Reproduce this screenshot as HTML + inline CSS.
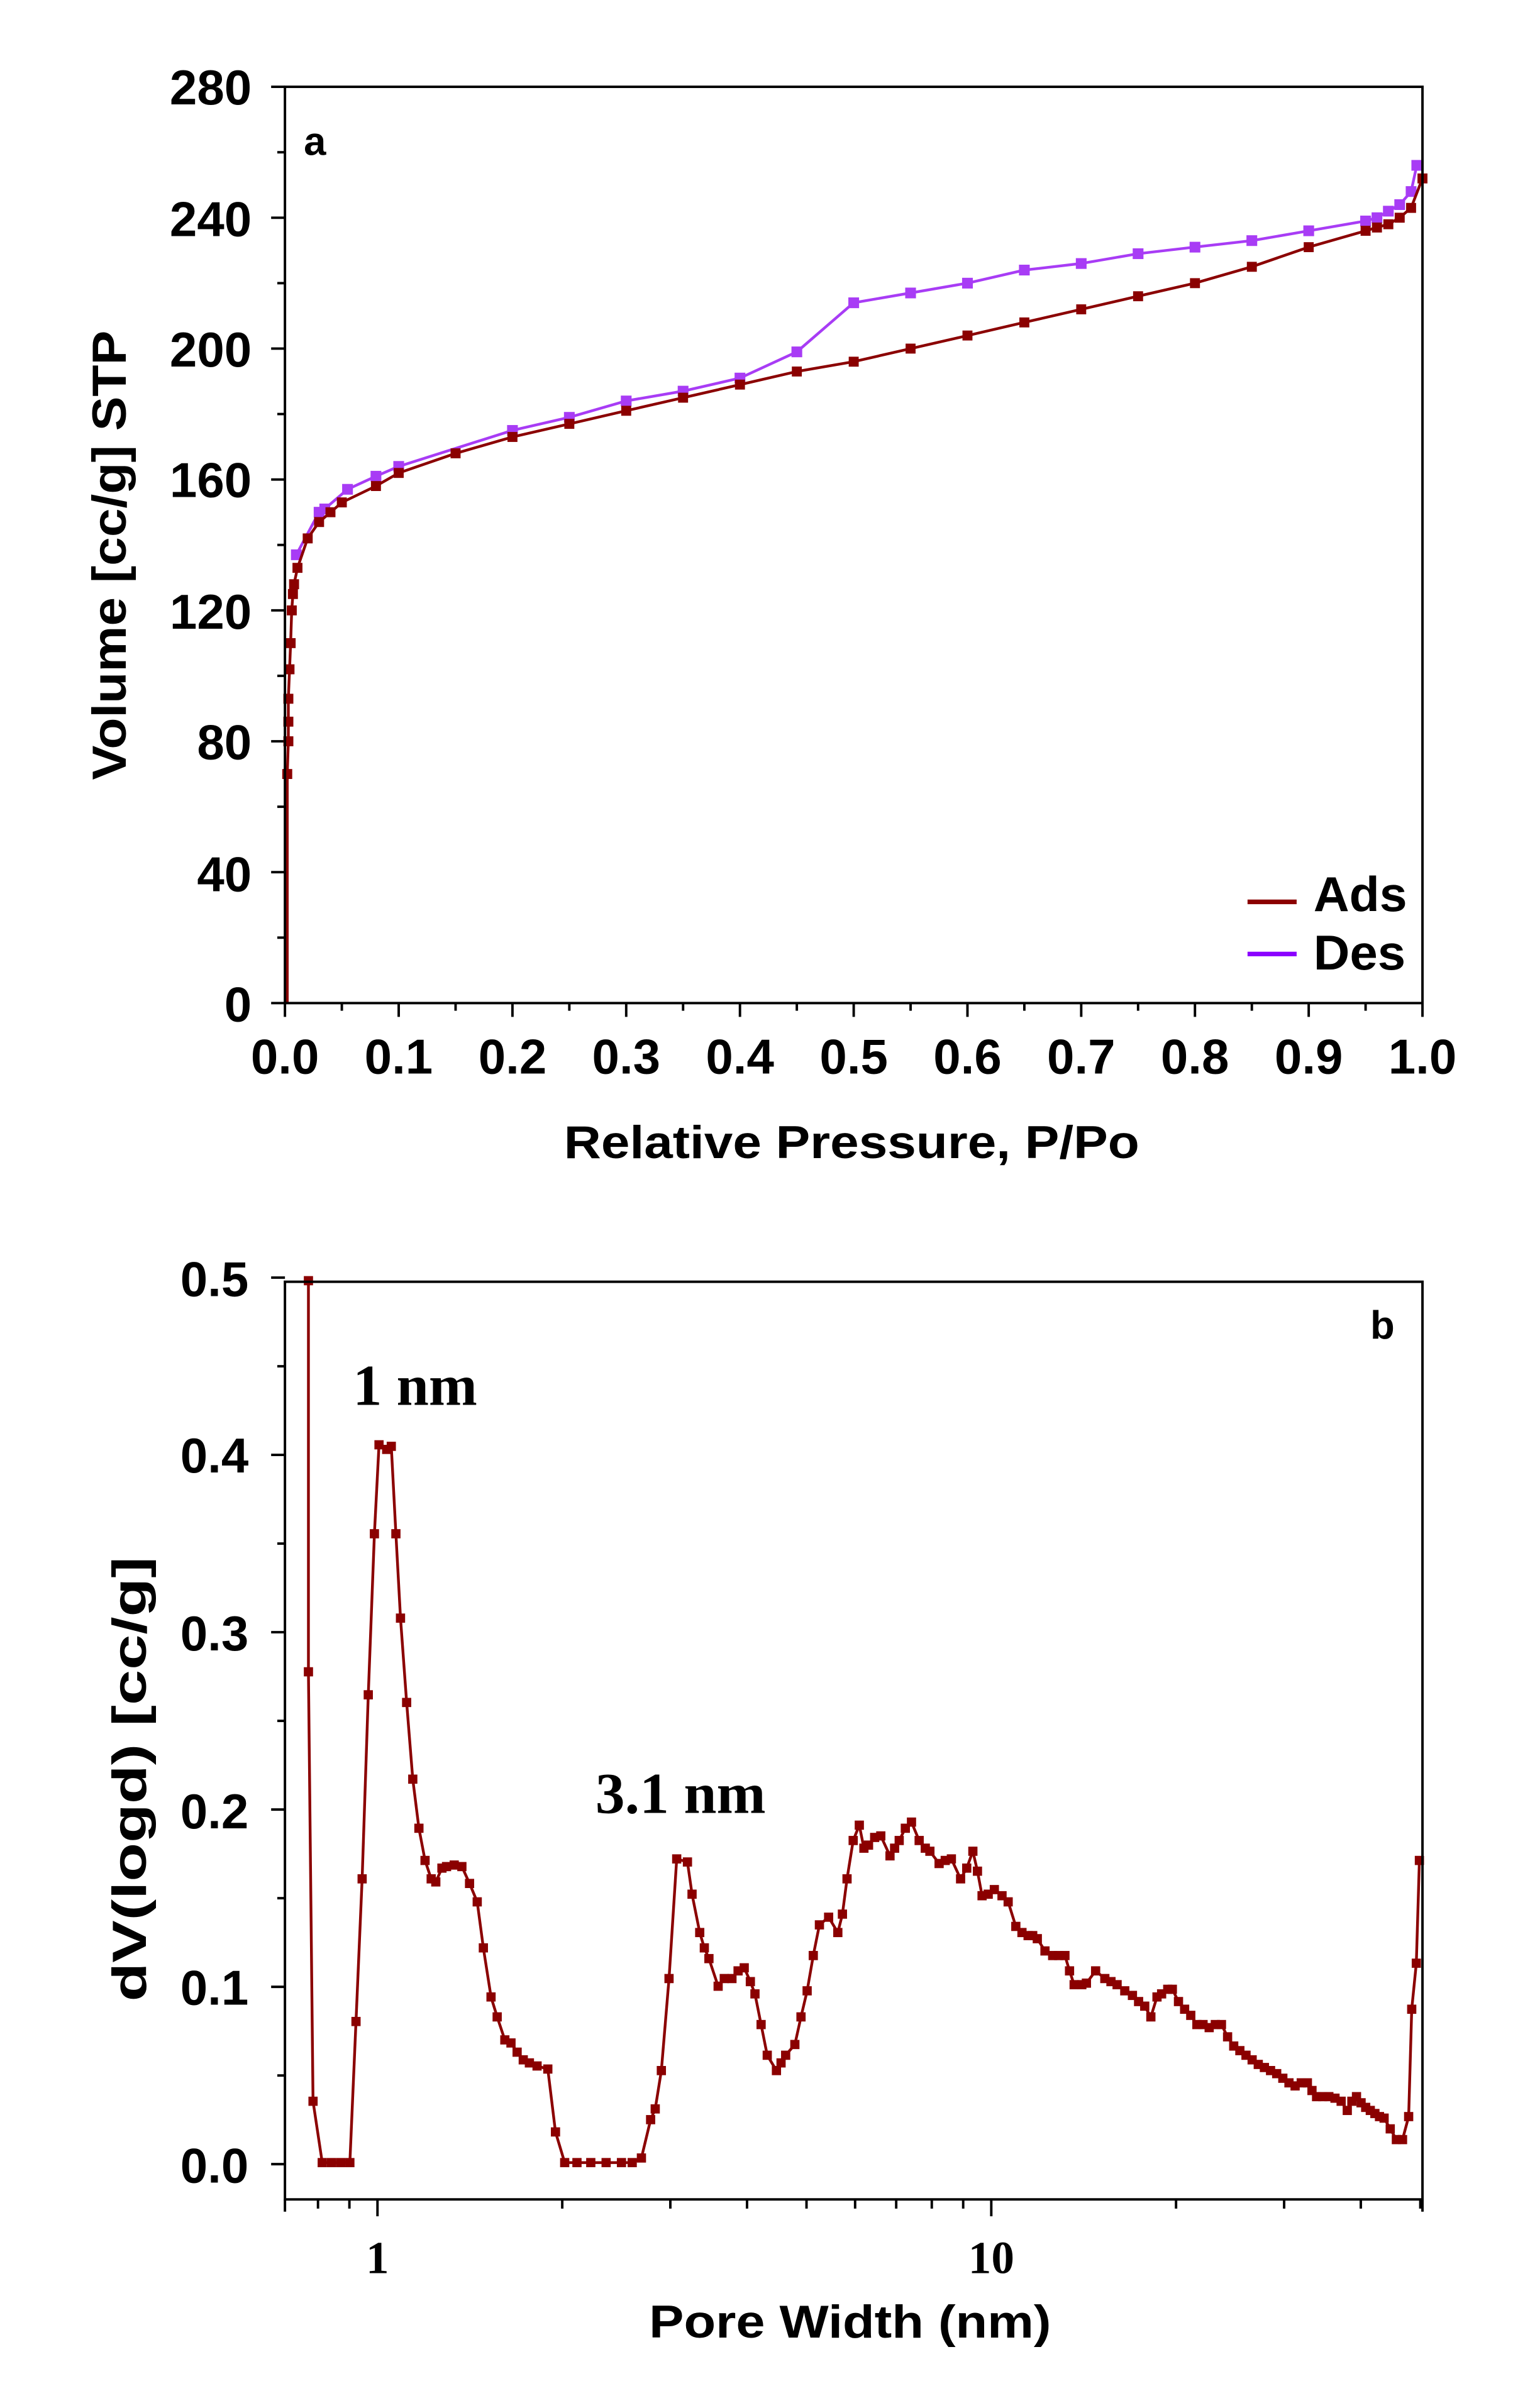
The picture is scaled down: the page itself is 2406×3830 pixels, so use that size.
<!DOCTYPE html>
<html><head><meta charset="utf-8"><style>
html,body{margin:0;padding:0;background:#fff;}
svg{display:block;}
.t{font-family:"Liberation Sans",Arial,sans-serif;font-weight:bold;fill:#000;}
.s{font-family:"Liberation Serif","Times New Roman",serif;font-weight:bold;fill:#000;}
</style></head><body>
<svg id="c" width="2406" height="3830" viewBox="0 0 986 1570" preserveAspectRatio="none" xmlns="http://www.w3.org/2000/svg">
<rect width="986" height="1570" fill="#fff"/>
<g id="ga"></g>
<g id="gb"></g>
<rect x="185.7" y="56.6" width="741.3" height="597.4" fill="none" stroke="#000" stroke-width="1.6"/>
<g class="t" font-size="32" text-anchor="end">
<text x="164" y="666">0</text><text x="164" y="581">40</text><text x="164" y="495">80</text>
<text x="164" y="410">120</text><text x="164" y="324">160</text><text x="164" y="239">200</text>
<text x="164" y="154">240</text><text x="164" y="68">280</text>
</g>
<g class="t" font-size="32" text-anchor="middle">
<text x="185.7" y="700">0.0</text><text x="259.8" y="700">0.1</text><text x="334" y="700">0.2</text>
<text x="408.1" y="700">0.3</text><text x="482.2" y="700">0.4</text><text x="556.4" y="700">0.5</text>
<text x="630.5" y="700">0.6</text><text x="704.6" y="700">0.7</text><text x="778.7" y="700">0.8</text>
<text x="852.9" y="700">0.9</text><text x="927" y="700">1.0</text>
</g>
<text class="t" x="555" y="755" font-size="30" text-anchor="middle" textLength="375" lengthAdjust="spacingAndGlyphs">Relative Pressure, P/Po</text>
<text class="t" font-size="31" text-anchor="middle" transform="translate(82,362) rotate(-90)" textLength="293" lengthAdjust="spacingAndGlyphs">Volume [cc/g] STP</text>
<text class="t" x="198" y="101" font-size="26">a</text>
<line x1="813" y1="588" x2="845" y2="588" stroke="#8b0000" stroke-width="3"/>
<line x1="813" y1="622" x2="845" y2="622" stroke="#8b00ff" stroke-width="3"/>
<text class="t" x="856" y="594" font-size="32" textLength="61" lengthAdjust="spacingAndGlyphs">Ads</text>
<text class="t" x="856" y="632" font-size="32" textLength="60" lengthAdjust="spacingAndGlyphs">Des</text>

<rect x="185.7" y="835.7" width="741.3" height="598.3" fill="none" stroke="#000" stroke-width="1.6"/>
<g class="t" font-size="32" text-anchor="end">
<text x="162" y="1423">0.0</text><text x="162" y="1307">0.1</text><text x="162" y="1192">0.2</text>
<text x="162" y="1076">0.3</text><text x="162" y="960">0.4</text><text x="162" y="845">0.5</text>
</g>
<g class="s" font-size="30" text-anchor="middle">
<text x="246" y="1482">1</text><text x="646" y="1482">10</text>
</g>
<text class="t" x="554" y="1524" font-size="30" text-anchor="middle" textLength="262" lengthAdjust="spacingAndGlyphs">Pore Width (nm)</text>
<text class="t" font-size="31" text-anchor="middle" transform="translate(95,1160) rotate(-90)" textLength="290" lengthAdjust="spacingAndGlyphs">dV(logd) [cc/g]</text>
<text class="t" x="893" y="873" font-size="26">b</text>
<text class="s" x="230" y="916" font-size="38" textLength="81" lengthAdjust="spacingAndGlyphs">1 nm</text>
<text class="s" x="388" y="1182" font-size="38" textLength="111" lengthAdjust="spacingAndGlyphs">3.1 nm</text>
</svg>
<script>
var NS="http://www.w3.org/2000/svg";
function el(p,n,a){var e=document.createElementNS(NS,n);for(var k in a)e.setAttribute(k,a[k]);p.appendChild(e);return e;}
var ga=document.getElementById('ga'),gb=document.getElementById('gb');
var L=185.7,R=927,T=56.6,B=654;
function ax(x){return L+(R-L)*x;} function ay(y){return B-(B-T)*y/280;}
for(var i=0;i<=20;i++){var x=ax(i/20);el(ga,'line',{x1:x,y1:B,x2:x,y2:B+(i%2?5:9),stroke:'#000','stroke-width':1.6});}
for(var i=0;i<=14;i++){var y=ay(i*20);el(ga,'line',{x1:L,y1:y,x2:L-(i%2?5:9),y2:y,stroke:'#000','stroke-width':1.6});}
var ads=[[0.002,0],[0.002,30],[0.002,70],[0.003,80],[0.003,86],[0.003,93],[0.004,102],[0.005,110],[0.006,120],[0.007,125],[0.008,128],[0.011,133],[0.02,142],[0.03,147],[0.04,150],[0.05,153],[0.08,158],[0.1,162],[0.15,168],[0.2,173],[0.25,177],[0.3,181],[0.35,185],[0.4,189],[0.45,193],[0.5,196],[0.55,200],[0.6,204],[0.65,208],[0.7,212],[0.75,216],[0.8,220],[0.85,225],[0.9,231],[0.95,236],[0.96,237],[0.97,238],[0.98,240],[0.99,243],[1.0,252]];
var des=[[0.995,256],[0.99,248],[0.98,244],[0.97,242],[0.96,240],[0.95,239],[0.9,236],[0.85,233],[0.8,231],[0.75,229],[0.7,226],[0.65,224],[0.6,220],[0.55,217],[0.5,214],[0.45,199],[0.4,191],[0.35,187],[0.3,184],[0.25,179],[0.2,175],[0.1,164],[0.08,161],[0.055,157],[0.035,151],[0.03,150],[0.01,137]];
function draw(g,pts,col,ms,mapx,mapy,dia){
 var d=pts.map(function(p,i){return (i?'L':'M')+mapx(p[0]).toFixed(1)+','+mapy(p[1]).toFixed(1);}).join('');
 el(g,'path',{d:d,fill:'none',stroke:col,'stroke-width':1.8});
 pts.forEach(function(p,i){if(dia&&i<2)return;var x=mapx(p[0]),y=mapy(p[1]);
  el(g,'rect',{x:x-ms/2,y:y-ms/2,width:ms,height:ms,fill:col});});
}
draw(ga,des,'#a83cf5',7,ax,ay);
draw(ga,ads,'#8b0000',6.5,ax,ay,true);
var B2=1434,Z=1411;
function bx(v){return 246+400*Math.log10(v);}
var maj=[1,10],mins=[0.8,0.9,2,3,4,5,6,7,8,9,20,30,40,50];
[0.7].concat(mins).forEach(function(v){var x=bx(v);if(x<185||x>928)return;el(gb,'line',{x1:x,y1:B2,x2:x,y2:B2+6,stroke:'#000','stroke-width':1.6});});
maj.forEach(function(v){var x=bx(v);el(gb,'line',{x1:x,y1:B2,x2:x,y2:B2+11,stroke:'#000','stroke-width':1.6});});
el(gb,'line',{x1:185.7,y1:B2,x2:185.7,y2:B2+8,stroke:'#000','stroke-width':1.6});
el(gb,'line',{x1:927,y1:B2,x2:927,y2:B2+8,stroke:'#000','stroke-width':1.6});
for(var i=0;i<=10;i++){var y=Z-i*0.05*1156;el(gb,'line',{x1:185.7,y1:y,x2:185.7-(i%2?5:9),y2:y,stroke:'#000','stroke-width':1.6});}
var pb=[[201,835],[201,1090],[204,1370],[210,1410],[216,1410],[222,1410],[228,1410],[232,1318],[236,1225],[240,1105],[244,1000],[247,942],[252,945],[255,943],[258,1000],[261,1055],[265,1110],[269,1160],[273,1192],[277,1213],[281,1225],[284,1227],[288,1218],[291,1217],[296,1216],[301,1217],[306,1228],[311,1240],[315,1270],[320,1302],[324,1315],[329,1330],[333,1332],[337,1338],[341,1343],[345,1345],[350,1347],[357,1349],[362,1390],[368,1410],[376,1410],[385,1410],[395,1410],[405,1410],[412,1410],[418,1407],[424,1382],[427,1375],[431,1350],[436,1290],[441,1212],[448,1214],[451,1235],[456,1260],[459,1270],[462,1277],[468,1295],[472,1290],[477,1290],[481,1285],[485,1283],[489,1292],[492,1300],[496,1320],[500,1340],[506,1350],[509,1345],[512,1340],[518,1333],[522,1315],[526,1298],[530,1275],[534,1255],[540,1250],[546,1260],[549,1248],[552,1225],[556,1200],[560,1190],[563,1205],[566,1203],[570,1198],[574,1197],[580,1210],[583,1205],[586,1200],[590,1192],[594,1188],[599,1200],[603,1205],[606,1207],[612,1215],[616,1213],[620,1212],[626,1225],[630,1218],[634,1207],[637,1220],[640,1236],[644,1235],[648,1232],[653,1236],[657,1240],[662,1256],[666,1260],[670,1262],[673,1262],[676,1264],[681,1272],[686,1275],[690,1275],[694,1275],[697,1285],[700,1294],[705,1294],[708,1293],[714,1285],[720,1290],[724,1292],[728,1294],[733,1298],[738,1301],[742,1305],[746,1308],[750,1315],[754,1302],[757,1300],[761,1297],[764,1297],[768,1305],[772,1310],[776,1314],[780,1320],[784,1320],[788,1322],[792,1320],[796,1320],[800,1328],[804,1334],[808,1337],[812,1340],[816,1343],[820,1346],[824,1348],[828,1350],[832,1352],[836,1355],[840,1358],[844,1360],[848,1358],[852,1358],[855,1363],[858,1367],[862,1367],[866,1367],[870,1368],[874,1370],[878,1376],[881,1370],[884,1367],[887,1371],[890,1374],[893,1376],[896,1378],[899,1380],[902,1381],[906,1388],[910,1395],[914,1395],[918,1380],[920,1310],[923,1280],[925,1213]];
draw(gb,pb,'#8b0000',6,function(v){return v;},function(v){return v;});
</script>
</body></html>
